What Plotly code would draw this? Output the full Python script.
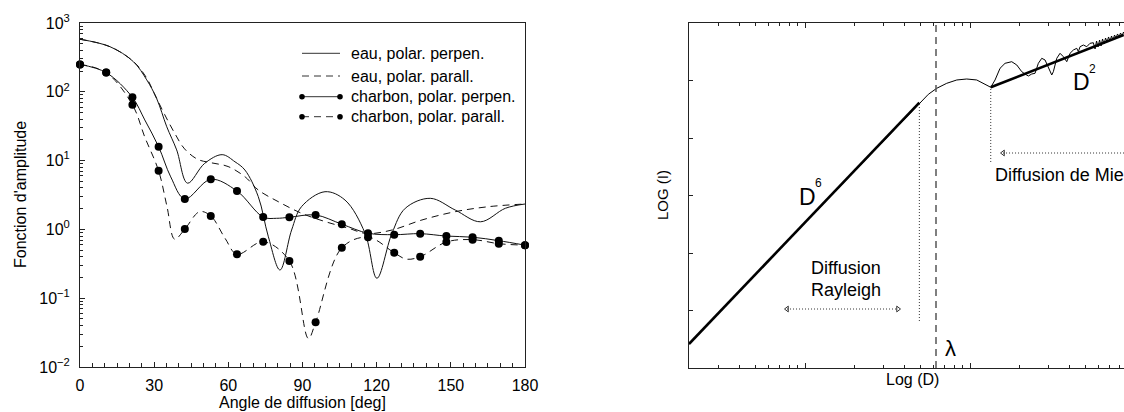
import plotly.graph_objects as go

W, H = 1124, 412
FONT = "Liberation Sans, Arial, sans-serif"

# ---------------- Left panel data (amplitude function vs scattering angle) ----------------
eau_perp_angle = [0, 12.1, 21.6, 27, 31, 35.1, 39.1, 43.5, 50.4, 57.5, 62.7, 66.7, 72.1, 76.2, 80.9,
                  85.6, 89.6, 99.1, 107.2, 115.3, 120.1, 126.2, 131.6, 141.7, 151.8, 162, 172.1, 180]
eau_perp_val = [580, 453, 274, 149, 80, 31, 14.3, 4.7, 9.1, 12.2, 9.6, 7.3, 3.0, 0.78, 0.257,
                0.98, 2.14, 3.53, 2.67, 0.88, 0.195, 0.88, 2.03, 2.83, 1.91, 1.29, 2.03, 2.34]

eau_par_angle = [0, 12.1, 21.6, 27, 30.2, 34.2, 38.3, 42.3, 47.7, 53.1, 59.9, 66.8, 72.1, 80.2,
                 89.7, 99.1, 108.6, 116, 126.2, 138.3, 151.8, 165.3, 180]
eau_par_val = [580, 453, 276, 158, 92, 47, 25, 14.8, 10.4, 9.3, 8.2, 5.8, 3.74, 2.53,
               1.71, 1.3, 1.04, 0.87, 0.98, 1.37, 1.81, 2.14, 2.34]

charbon_angle = [0, 10.6, 21.2, 31.8, 42.4, 52.9, 63.5, 74.1, 84.7, 95.3, 105.9, 116.5,
                 127.1, 137.6, 148.2, 158.8, 169.4, 180]
charbon_perp_val = [250, 190, 83, 15.9, 2.77, 5.35, 3.61, 1.51, 1.50, 1.62, 1.19, 0.88,
                    0.838, 0.867, 0.80, 0.77, 0.685, 0.59]
charbon_par_val = [250, 190, 65, 7.1, 1.01, 1.57, 0.435, 0.662, 0.348, 0.0446, 0.54, 0.77,
                   0.458, 0.40, 0.656, 0.71, 0.62, 0.59]

# continuous curves of the charbon series (markers + read-off extrema)
charbon_perp_curve_angle = [0, 10.6, 21.2, 26.2, 31.8, 36.7, 42.4, 52.9, 63.5, 74.1, 79.5, 84.7, 95.3,
                            105.9, 116.5, 127.1, 137.6, 148.2, 158.8, 169.4, 180]
charbon_perp_curve_val = [250, 190, 83, 39, 15.9, 5.8, 2.77, 5.35, 3.61, 1.51, 1.45, 1.50, 1.62,
                          1.19, 0.88, 0.838, 0.867, 0.80, 0.77, 0.685, 0.59]
charbon_par_curve_angle = [0, 10.6, 21.2, 26.2, 31.8, 35.2, 38.3, 42.4, 48.4, 52.9, 58.7, 63.5, 74.1,
                           84.7, 92.4, 95.3, 105.9, 116.5, 127.1, 132, 137.6, 148.2, 158.8, 169.4, 180]
charbon_par_curve_val = [250, 190, 65, 22, 7.1, 2.14, 0.72, 1.01, 1.81, 1.57, 0.74, 0.435, 0.662,
                         0.348, 0.026, 0.0446, 0.54, 0.77, 0.458, 0.37, 0.40, 0.656, 0.71, 0.62, 0.59]

legend_labels = ["eau, polar. perpen.", "eau, polar. parall.",
                 "charbon, polar. perpen.", "charbon, polar. parall."]

left_x_ticks = [0, 30, 60, 90, 120, 150, 180]
left_y_tickvals = [0.01, 0.1, 1, 10, 100, 1000]
left_y_ticktext = ["10<sup>−2</sup>", "10<sup>−1</sup>", "10<sup>0</sup>",
                   "10<sup>1</sup>", "10<sup>2</sup>", "10<sup>3</sup>"]

# ---------------- Right panel data (log intensity vs diameter) ----------------
curve_D = [0.0198, 0.493, 0.559, 0.628, 0.722, 0.831, 0.955, 1.098, 1.204, 1.335,
           1.418, 1.520, 1.630, 1.789, 1.919, 2.058, 2.154, 2.256, 2.365, 2.477, 2.594, 2.720,
           2.848, 2.982, 3.128, 3.198, 3.354, 3.512, 3.678, 3.856, 4.037, 4.228, 4.434, 4.534,
           4.642, 4.861, 5.097, 5.337, 5.588,
           5.722, 5.843, 5.967, 6.093, 6.222, 6.353, 6.488, 6.625, 6.765, 6.908, 7.054, 7.203,
           7.356, 7.511, 7.670, 7.832, 7.998, 8.167, 8.339, 8.516, 8.696]
curve_logI = [0.417, 4.614, 4.760, 4.864, 4.951, 5.009, 5.026, 5.009, 4.951, 4.882,
              5.009, 5.212, 5.299, 5.327, 5.270, 5.153, 5.113, 5.078, 5.113, 5.125, 5.299, 5.386,
              5.357, 5.240, 5.096, 5.153, 5.386, 5.473, 5.414, 5.327, 5.473, 5.530, 5.560, 5.501,
              5.588, 5.617, 5.588, 5.647, 5.657,
              5.548, 5.687, 5.583, 5.704, 5.600, 5.722, 5.635, 5.739, 5.670, 5.757, 5.687, 5.774,
              5.704, 5.791, 5.739, 5.809, 5.757, 5.826, 5.774, 5.843, 5.791]

rayleigh_D = [0.0198, 0.493]
rayleigh_logI = [0.417, 4.614]
mie_D = [1.335, 8.54]
mie_logI = [4.882, 5.791]

lambda_D = 0.622
rayleigh_limit_D = 0.493
rayleigh_limit_low = 0.817
mie_limit_D = 1.335
mie_limit_low = 3.583
rayleigh_arrow_D = [0.0778, 0.366]
rayleigh_arrow_logI = 1.026
mie_arrow_D = [1.585, 9.5]
mie_arrow_logI = 3.739

right_y_ticks = [1, 2, 3, 4, 5]
right_x_major = [0.1, 1, 10]
right_x_minor = [m * d for d in (0.01, 0.1, 1) for m in range(2, 10)]
left_y_minor = [m * d for d in (0.01, 0.1, 1, 10, 100) for m in range(2, 10)]

# ---------------- Figure ----------------
def px(x):
    return x / W

def py(y):
    return 1 - y / H

fig = go.Figure()

LINE = "#111"
DASH = "7px,5px"

fig.add_trace(go.Scatter(x=eau_perp_angle, y=eau_perp_val, mode="lines", line=dict(color=LINE, width=1, shape="spline"),
                         xaxis="x", yaxis="y", showlegend=False))
fig.add_trace(go.Scatter(x=eau_par_angle, y=eau_par_val, mode="lines", line=dict(color=LINE, width=1, shape="spline", dash=DASH),
                         xaxis="x", yaxis="y", showlegend=False))
fig.add_trace(go.Scatter(x=charbon_perp_curve_angle, y=charbon_perp_curve_val, mode="lines",
                         line=dict(color=LINE, width=1, shape="spline"), xaxis="x", yaxis="y", showlegend=False))
fig.add_trace(go.Scatter(x=charbon_par_curve_angle, y=charbon_par_curve_val, mode="lines",
                         line=dict(color=LINE, width=1, shape="spline", dash=DASH), xaxis="x", yaxis="y", showlegend=False))
fig.add_trace(go.Scatter(x=charbon_angle, y=charbon_perp_val, mode="markers", marker=dict(color="black", size=8),
                         xaxis="x", yaxis="y", showlegend=False, cliponaxis=False))
fig.add_trace(go.Scatter(x=charbon_angle, y=charbon_par_val, mode="markers", marker=dict(color="black", size=8),
                         xaxis="x", yaxis="y", showlegend=False, cliponaxis=False))

# Right panel traces
fig.add_trace(go.Scatter(x=curve_D, y=curve_logI, mode="lines", line=dict(color="black", width=1),
                         xaxis="x2", yaxis="y2", showlegend=False))
fig.add_trace(go.Scatter(x=rayleigh_D, y=rayleigh_logI, mode="lines", line=dict(color="black", width=2.6),
                         xaxis="x2", yaxis="y2", showlegend=False))
fig.add_trace(go.Scatter(x=mie_D, y=mie_logI, mode="lines", line=dict(color="black", width=2.6),
                         xaxis="x2", yaxis="y2", showlegend=False))
# limits
fig.add_trace(go.Scatter(x=[rayleigh_limit_D, rayleigh_limit_D], y=[rayleigh_limit_low, rayleigh_logI[1]], mode="lines",
                         line=dict(color="#333", width=1, dash="1px,2px"), xaxis="x2", yaxis="y2", showlegend=False))
fig.add_trace(go.Scatter(x=[mie_limit_D, mie_limit_D], y=[mie_limit_low, mie_logI[0]], mode="lines",
                         line=dict(color="#333", width=1, dash="1px,2px"), xaxis="x2", yaxis="y2", showlegend=False))
fig.add_trace(go.Scatter(x=[lambda_D, lambda_D], y=[0, 6], mode="lines",
                         line=dict(color="#555", width=1.5, dash="7px,5px"), xaxis="x2", yaxis="y2", showlegend=False))
# arrows
for xs, yv in ((rayleigh_arrow_D, rayleigh_arrow_logI), (mie_arrow_D, mie_arrow_logI)):
    fig.add_trace(go.Scatter(x=xs, y=[yv, yv], mode="lines+markers",
                             line=dict(color="#333", width=1, dash="1px,2px"),
                             marker=dict(symbol=["triangle-left-open", "triangle-right-open"], size=5,
                                         color="#333", line=dict(width=1, color="#333")),
                             xaxis="x2", yaxis="y2", showlegend=False))

axis_common = dict(showgrid=False, zeroline=False, linecolor="#222", linewidth=1, automargin=False,
                   ticks="inside", tickcolor="#222", tickfont=dict(family=FONT, size=16, color="black"))

fig.update_layout(
    template="none",
    width=W, height=H, margin=dict(l=0, r=0, t=0, b=0, pad=0, autoexpand=False),
    paper_bgcolor="white", plot_bgcolor="white",
    font=dict(family=FONT, color="black"),
    xaxis=dict(domain=[px(80), px(525)], range=[0, 180], tickvals=left_x_ticks, ticklen=5,
               minor=dict(dtick=5, ticks="inside", ticklen=4, tickcolor="#222"),
               mirror=True, anchor="y", ticklabelstandoff=4, **axis_common),
    yaxis=dict(domain=[py(367), py(23)], type="log", range=[-2, 3], tickvals=left_y_tickvals,
               ticktext=left_y_ticktext, ticklen=5,
               minor=dict(tickvals=left_y_minor, ticks="inside", ticklen=3, tickcolor="#222"),
               mirror=True, anchor="x", ticklabelstandoff=6, **axis_common),
    xaxis2=dict(domain=[px(689), 1.0], type="log", range=[-1.703, 0.933], tickvals=right_x_major,
                showticklabels=False, ticklen=5,
                minor=dict(tickvals=right_x_minor, ticks="inside", ticklen=3, tickcolor="#222"),
                mirror="ticks", anchor="y2", **axis_common),
    yaxis2=dict(domain=[py(368), py(23)], range=[0, 6], tickvals=right_y_ticks, showticklabels=False,
                ticklen=4, mirror=False, anchor="x2", **axis_common),
)

# legend (manual, markers at both ends of the sample line)
legend_rows = [53.3, 76, 96.7, 116.7]
legend_dash = [None, DASH, None, DASH]
legend_marker = [False, False, True, True]
for lab, yr, dsh, mk in zip(legend_labels, legend_rows, legend_dash, legend_marker):
    fig.add_shape(type="line", xref="paper", yref="paper", x0=px(302), x1=px(340), y0=py(yr), y1=py(yr),
                  line=dict(color="#333", width=1, dash=dsh if dsh else "solid"))
    if mk:
        for xc in (302, 340):
            fig.add_shape(type="circle", xref="paper", yref="paper", x0=px(xc - 2.8), x1=px(xc + 2.8),
                          y0=py(yr + 2.8), y1=py(yr - 2.8), fillcolor="black", line=dict(width=0))
    fig.add_annotation(text=lab, xref="paper", yref="paper", x=px(349), y=py(yr), xanchor="left",
                       yanchor="middle", showarrow=False, font=dict(family=FONT, size=16, color="black"))

def note(text, x, y, size, xanchor="center", angle=0):
    fig.add_annotation(text=text, xref="paper", yref="paper", x=px(x), y=py(y), xanchor=xanchor,
                       yanchor="middle", showarrow=False, textangle=angle,
                       font=dict(family=FONT, size=size, color="black"))

note("Fonction d'amplitude", 20, 195, 16, angle=-90)
note("Angle de diffusion [deg]", 302, 402, 16)
note("LOG (I)", 662, 195, 15, angle=-90)
note("Log (D)", 912, 379, 16)
note("D", 807, 197, 23)
note("6", 818, 183, 12)
note("D", 1081, 82, 23)
note("2", 1092, 69, 12)
note("Diffusion", 846, 268, 18)
note("Rayleigh", 846, 290, 18)
note("Diffusion de Mie", 993, 175, 18, xanchor="left")
note("λ", 950, 348, 22)

fig.write_html("out.html")
